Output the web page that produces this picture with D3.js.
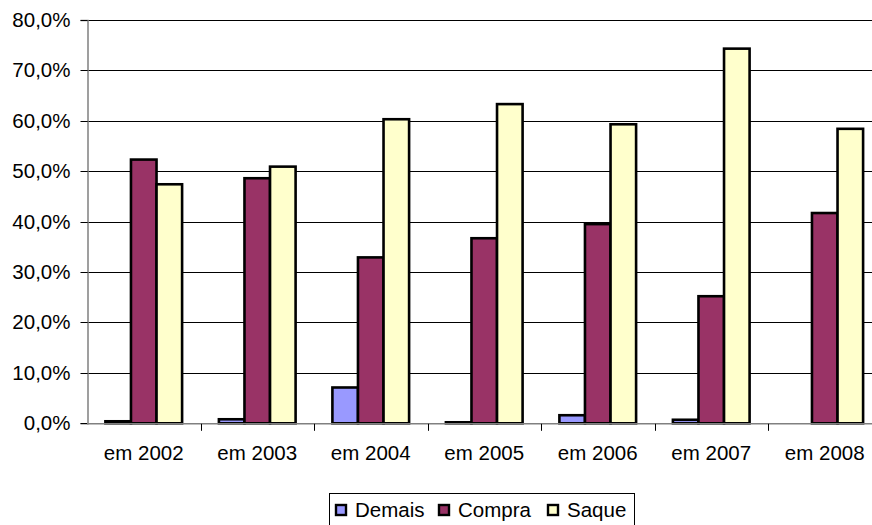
<!DOCTYPE html>
<html>
<head>
<meta charset="utf-8">
<script src="https://cdn.jsdelivr.net/npm/d3@7"></script>
<style>
  html, body { margin: 0; padding: 0; background: #fff; }
  svg { display: block; font-family: "Liberation Sans", Arial, sans-serif; }
</style>
</head>
<body>
<svg id="chart" width="872" height="525"></svg>
<script>
// Share of each transaction type per year (%)
const categories = ["em 2002", "em 2003", "em 2004", "em 2005", "em 2006", "em 2007", "em 2008"];
const seriesNames = ["Demais", "Compra", "Saque"];
const demais = [0.4, 0.8, 7.1, 0.2, 1.6, 0.7, 0.0];
const compra = [52.3, 48.6, 32.9, 36.7, 39.5, 25.2, 41.7];
const saque  = [47.4, 50.9, 60.3, 63.3, 59.3, 74.3, 58.4];
const yTicks = [0, 10, 20, 30, 40, 50, 60, 70, 80];
const colors = { Demais: "#9999FF", Compra: "#993366", Saque: "#FFFFCC" };

const values = { Demais: demais, Compra: compra, Saque: saque };
const rows = categories.map((c, i) => ({ cat: c, vals: seriesNames.map(s => ({ key: s, value: values[s][i] })) }));

const svg = d3.select("#chart");
const plotLeft = 87, plotRight = 881.5, plotTop = 19.9, plotBottom = 423.3;

const x0 = d3.scaleBand().domain(categories).range([plotLeft, plotRight]).padding(0);
const x1 = d3.scaleBand().domain(seriesNames).range([0, x0.bandwidth()])
  .paddingInner(0).paddingOuter(0.72);
const y = d3.scaleLinear().domain([0, 80]).range([plotBottom, plotTop]);

const fmt = v => d3.format(".1f")(v).replace(".", ",") + "%";

// horizontal gridlines
svg.append("g").selectAll("line").data(yTicks.filter(t => t > 0)).join("line")
  .attr("x1", plotLeft).attr("x2", plotRight)
  .attr("y1", d => Math.round(y(d)) + 0.5).attr("y2", d => Math.round(y(d)) + 0.5)
  .attr("stroke", "#000").attr("stroke-width", 1);

// y axis
const yAxis = svg.append("g").attr("transform", `translate(${plotLeft + 0.5},0)`)
  .call(d3.axisLeft(y).tickValues(yTicks).tickFormat(fmt).tickSize(7).tickPadding(10));
yAxis.select(".domain").attr("stroke", "#808080").attr("stroke-width", 1.5);
yAxis.selectAll(".tick line").attr("stroke", "#000");
yAxis.selectAll(".tick").attr("transform", d => `translate(0,${Math.round(y(d)) + 0.5})`);
yAxis.selectAll("text").attr("font-size", 20.5).attr("fill", "#000")
  .attr("font-family", "Liberation Sans, Arial, sans-serif");

// bars
const groups = svg.append("g").selectAll("g").data(rows).join("g")
  .attr("transform", d => `translate(${x0(d.cat)},0)`);
groups.selectAll("rect").data(d => d.vals.filter(v => v.value > 0)).join("rect")
  .attr("x", d => x1(d.key))
  .attr("width", x1.bandwidth())
  .attr("y", d => y(d.value))
  .attr("height", d => y(0) - y(d.value))
  .attr("fill", d => colors[d.key])
  .attr("stroke", "#000").attr("stroke-width", 2.6);

// x axis
const xAxis = svg.append("g").attr("transform", `translate(0,${plotBottom + 0.5})`);
xAxis.append("line").attr("x1", plotLeft).attr("x2", plotRight).attr("y1", 0).attr("y2", 0)
  .attr("stroke", "#808080").attr("stroke-width", 1.5);
xAxis.selectAll("line.tk").data(categories.slice(1)).join("line").attr("class", "tk")
  .attr("x1", d => Math.round(x0(d)) + 0.5).attr("x2", d => Math.round(x0(d)) + 0.5)
  .attr("y1", 0).attr("y2", 7).attr("stroke", "#000");
xAxis.selectAll("text").data(categories).join("text")
  .attr("x", d => x0(d) + x0.bandwidth() / 2)
  .attr("y", 36)
  .attr("text-anchor", "middle").attr("font-size", 20.5).attr("fill", "#000")
  .text(d => d);

// legend
const lg = svg.append("g");
lg.append("rect").attr("x", 329.5).attr("y", 493.5).attr("width", 305).attr("height", 40)
  .attr("fill", "#fff").attr("stroke", "#000").attr("stroke-width", 1);
const legendX = [335, 438, 547];
seriesNames.forEach((s, i) => {
  lg.append("rect").attr("x", legendX[i] + 1).attr("y", 505).attr("width", 10).attr("height", 10)
    .attr("fill", colors[s]).attr("stroke", "#000").attr("stroke-width", 2.4);
  lg.append("text").attr("x", legendX[i] + 20).attr("y", 517).attr("font-size", 20.5)
    .attr("fill", "#000").text(s);
});
</script>
</body>
</html>
